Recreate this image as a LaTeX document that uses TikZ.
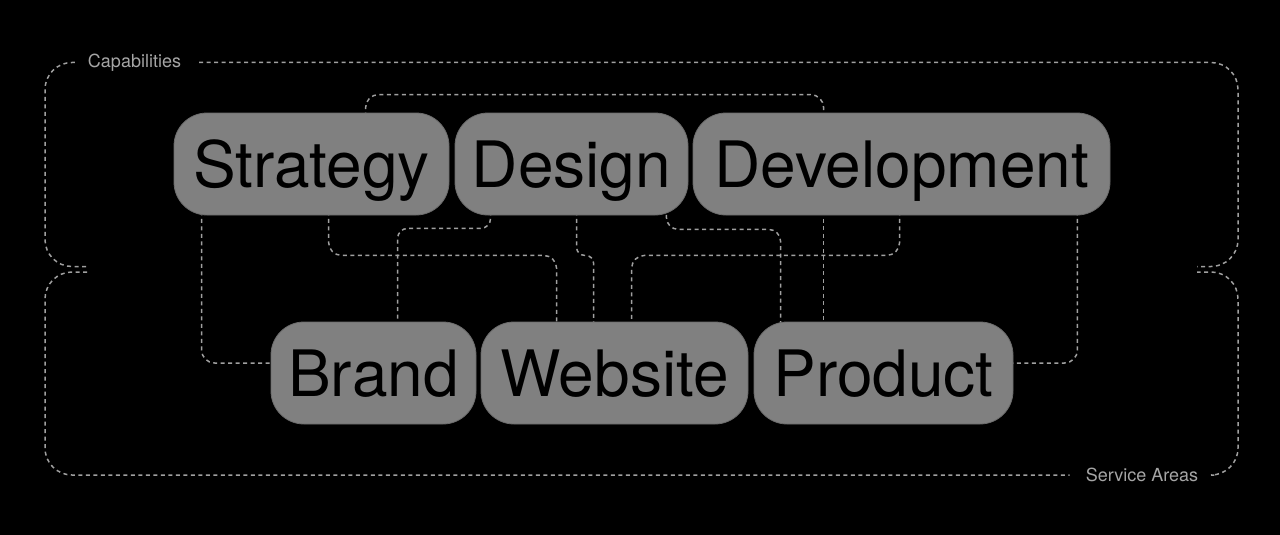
\documentclass[tikz,border=0pt]{standalone}
\usepackage{fontspec}
\setmainfont{TeX Gyre Heros}
\usetikzlibrary{calc}
\definecolor{boxgray}{RGB}{128,128,128}
\definecolor{boxedge}{RGB}{108,108,108}
\definecolor{linegray}{RGB}{160,160,160}
\definecolor{lblgray}{RGB}{165,165,165}
\pgfdeclarelayer{bg}
\pgfdeclarelayer{lines}
\pgfsetlayers{bg,lines,main}
\begin{document}
\begin{tikzpicture}[x=1pt,y=-1pt,
  pill/.style={fill=boxgray, draw=boxedge, line width=0.8pt, rounded corners=33pt,
    inner sep=0pt, text=black, font=\fontsize{64}{70}\selectfont,
    text height=46pt, text depth=0pt, minimum height=102pt},
  conn/.style={draw=linegray, line width=1.5pt, dash pattern=on 4pt off 3.5pt, rounded corners=13pt},
  frame/.style={draw=linegray, line width=1.5pt, dash pattern=on 4pt off 3.5pt, rounded corners=27pt},
  lbl/.style={text=lblgray, font=\fontsize{18}{20}\selectfont, inner sep=0pt,
    text height=13pt, text depth=0pt}
]
\path[use as bounding box] (0,0) rectangle (1280,535);
\begin{pgfonlayer}{bg}
\fill[black] (0,0) rectangle (1280,535);
\end{pgfonlayer}

% boxes
\node[pill, minimum width=275pt] (strategy) at (311.5,164) {Strategy};
\node[pill, minimum width=233pt] (design) at (571.5,164) {Design};
\node[pill, minimum width=417pt] (development) at (901.5,164) {Development};
\node[pill, minimum width=205pt] (brand) at (373.5,373) {Brand};
\node[pill, minimum width=267pt] (website) at (614.5,373) {Website};
\node[pill, minimum width=259pt] (product) at (883.5,373) {Product};

% labels
\node[lbl] (cap) at (134.5,60.5) {Capabilities};
\node[lbl] (svc) at (1142,475) {Service Areas};

\begin{pgfonlayer}{lines}
% outer frame
\draw[frame] ($(cap.west)+(-13,2)$) -- (45,62.5) -- (45,266.5) -- (87,266.5);
\draw[frame] ($(cap.east)+(18,2)$) -- (1238,62.5) -- (1238,266.5) -- (1197,266.5);
\draw[frame] (87,272) -- (45,272) -- (45,475) -- ($(svc.west)+(-16,0)$);
\draw[frame] ($(svc.east)+(16,0)$) -- (1238,475) -- (1238,272) -- (1197,272);

% connectors
\draw[conn] ($(strategy.north west)+(192,4)$) -- ++(0,-22) -| ($(development.north west)+(131,4)$);
\draw[conn] ($(strategy.south west)+(28,-4)$) |- ($(brand.west)+(4,-10)$);
\draw[conn] ($(strategy.south west)+(155,-4)$) -- ++(0,44) -| ($(website.north west)+(76,4)$);
\draw[conn, rounded corners=10pt] ($(design.south west)+(36,-4)$) -- ++(0,17) -| ($(brand.north west)+(127,4)$);
\draw[conn, rounded corners=8pt] ($(design.south west)+(122,-4)$) -- ++(0,44) -| ($(website.north west)+(113,4)$);
\draw[conn, rounded corners=12pt] ($(design.south east)+(-22,-8)$) -- ++(0,22) -| ($(product.north west)+(27,4)$);
\draw[conn] ($(development.south west)+(207,-4)$) -- ++(0,44) -| ($(website.north west)+(151,4)$);
\draw[conn] ($(development.south east)+(-33,-4)$) |- ($(product.east)+(-4,-10)$);
\draw[conn] ($(development.south west)+(131,-4)$) -- ($(product.north west)+(70,4)$);
\end{pgfonlayer}
\end{tikzpicture}
\end{document}
